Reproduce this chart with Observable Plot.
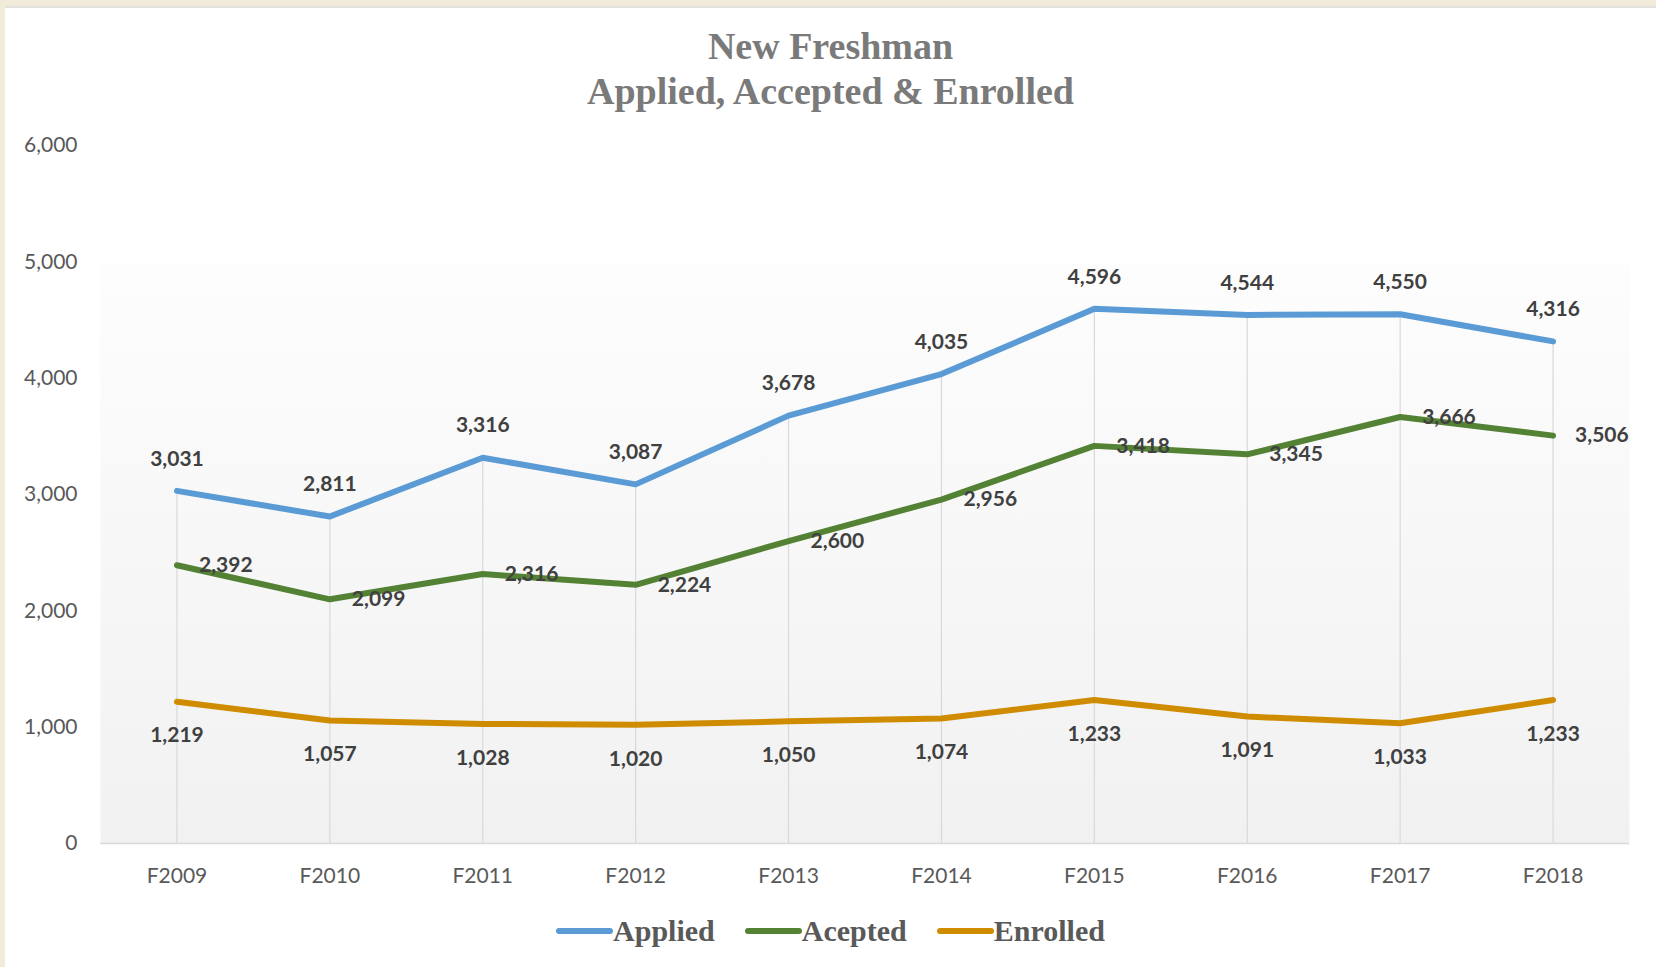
<!DOCTYPE html>
<html>
<head>
<meta charset="utf-8">
<script src="https://cdn.jsdelivr.net/npm/d3@7"></script>
<script src="https://cdn.jsdelivr.net/npm/@observablehq/plot@0.6"></script>
<style>
  html, body { margin: 0; padding: 0; background: #ffffff; }
  body { width: 1656px; height: 967px; overflow: hidden; position: relative; }
  #topband { height: 6px; background: #f2ebda; border-bottom: 2px solid #e3e1de; }
  #leftband { position: absolute; left: 0; top: 0; width: 5px; height: 967px; background: #f2ebda; }
  #wrap { margin-left: 5px; }
  #title { text-align: center; font-family: "Liberation Serif", "Times New Roman", serif; font-weight: bold;
           font-size: 38px; line-height: 45px; color: #7a7a7a; padding-top: 16px; height: 91px; }
  #legend { display: flex; justify-content: center; align-items: center; gap: 30px; height: 56px;
            font-family: "Liberation Serif", "Times New Roman", serif; font-weight: bold; font-size: 30px; color: #595959; }
  .item { display: flex; align-items: center; }
  .sw { width: 57px; height: 6px; border-radius: 3px; }
  svg { display: block; }
</style>
</head>
<body>
<div id="topband"></div>
<div id="leftband"></div>
<div id="wrap">
  <div id="title">New Freshman<br>Applied, Accepted &amp; Enrolled</div>
  <div id="chart"></div>
  <div id="legend"></div>
</div>
<script>
const years = ["F2009","F2010","F2011","F2012","F2013","F2014","F2015","F2016","F2017","F2018"];
const applied  = [3031, 2811, 3316, 3087, 3678, 4035, 4596, 4544, 4550, 4316];
const accepted = [2392, 2099, 2316, 2224, 2600, 2956, 3418, 3345, 3666, 3506];
const enrolled = [1219, 1057, 1028, 1020, 1050, 1074, 1233, 1091, 1033, 1233];
const seriesNames = ["Applied", "Acepted", "Enrolled"];
const seriesColors = ["#5b9bd5", "#548235", "#cf8c00"];
const yTicks = [0, 1000, 2000, 3000, 4000, 5000, 6000];

const fmt = d3.format(",");
const toRows = (vals, s) => vals.map((v, i) => ({year: years[i], value: v, series: s}));
const appliedRows = toRows(applied, seriesNames[0]);
const acceptedRows = toRows(accepted, seriesNames[1]);
const enrolledRows = toRows(enrolled, seriesNames[2]);
const rows = [...appliedRows, ...acceptedRows, ...enrolledRows];

const labelFont = {fontFamily: "Lato, 'Liberation Sans', sans-serif", fontSize: 21, fontWeight: "bold", fill: "#404040"};

const plot = Plot.plot({
  width: 1651,
  height: 788,
  marginTop: 30,
  marginBottom: 60,
  marginLeft: 95,
  marginRight: 27,
  style: {fontFamily: "Lato, 'Liberation Sans', sans-serif", fontSize: "21px", color: "#595959", background: "transparent"},
  x: {type: "point", domain: years, padding: 0.5, round: false, label: null},
  y: {domain: [0, 6000], label: null},
  color: {domain: seriesNames, range: seriesColors},
  marks: [
    Plot.frame({fill: "url(#bgGrad)", stroke: "none"}),
    Plot.ruleX(appliedRows, {x: "year", y1: 0, y2: "value", stroke: "#d9d9d9", strokeWidth: 1.2}),
    Plot.ruleY([0], {stroke: "#d9d9d9", strokeWidth: 1.5}),
    Plot.axisY({ticks: yTicks, tickFormat: fmt, tickSize: 0, tickPadding: 23, fontSize: 21}),
    Plot.axisX({tickSize: 0, tickPadding: 25, fontSize: 21}),
    Plot.line(rows, {x: "year", y: "value", z: "series", stroke: "series", strokeWidth: 6, strokeLinejoin: "round", strokeLinecap: "round"}),
    Plot.text(appliedRows, {x: "year", y: "value", text: d => fmt(d.value), dy: -32, ...labelFont}),
    Plot.text(acceptedRows, {x: "year", y: "value", text: d => fmt(d.value), dx: 22, textAnchor: "start", ...labelFont}),
    Plot.text(enrolledRows, {x: "year", y: "value", text: d => fmt(d.value), dy: 34, ...labelFont})
  ]
});

// gradient background for the plot area
const ns = "http://www.w3.org/2000/svg";
const defs = document.createElementNS(ns, "defs");
defs.innerHTML = `<linearGradient id="bgGrad" x1="0" y1="0" x2="0" y2="1">
  <stop offset="0" stop-color="#ffffff"/>
  <stop offset="0.168" stop-color="#ffffff"/>
  <stop offset="0.17" stop-color="#fdfdfd"/>
  <stop offset="1" stop-color="#f1f1f1"/>
</linearGradient>`;
plot.insertBefore(defs, plot.firstChild);
document.getElementById("chart").appendChild(plot);

const legend = document.getElementById("legend");
seriesNames.forEach((name, i) => {
  const item = document.createElement("div");
  item.className = "item";
  const sw = document.createElement("div");
  sw.className = "sw";
  sw.style.background = seriesColors[i];
  const t = document.createElement("span");
  t.textContent = name;
  item.appendChild(sw);
  item.appendChild(t);
  legend.appendChild(item);
});
</script>
</body>
</html>
